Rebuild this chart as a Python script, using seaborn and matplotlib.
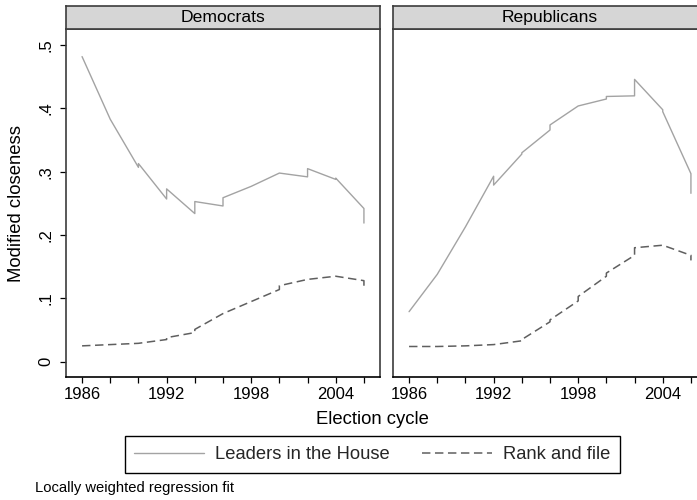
import numpy as np
import pandas as pd
import matplotlib
matplotlib.use("Agg")
import matplotlib.pyplot as plt
import seaborn as sns

sns.set_style("white")
plt.rcParams["font.family"] = ["Liberation Sans", "DejaVu Sans"]

# Lowess fits of modified closeness by election cycle (repeated years are
# where consecutive local fits meet).
dem_leader_years = [1986, 1988, 1990, 1990, 1992, 1992, 1994, 1994, 1996, 1996,
                    1998, 2000, 2002, 2002, 2004, 2004, 2006, 2006]
dem_leader_vals = [0.482, 0.383, 0.307, 0.313, 0.257, 0.273, 0.234, 0.253, 0.246, 0.259,
                   0.277, 0.298, 0.292, 0.305, 0.288, 0.290, 0.242, 0.219]

dem_rank_years = [1986, 1988, 1990, 1992, 1992, 1994, 1994, 1996, 1998, 2000, 2000,
                  2002, 2004, 2006, 2006]
dem_rank_vals = [0.025, 0.027, 0.029, 0.035, 0.038, 0.046, 0.051, 0.076, 0.095, 0.114, 0.120,
                 0.130, 0.135, 0.128, 0.120]

rep_leader_years = [1986, 1988, 1990, 1992, 1992, 1994, 1994, 1996, 1996, 1998, 2000, 2000,
                    2002, 2002, 2004, 2004, 2006, 2006]
rep_leader_vals = [0.079, 0.138, 0.213, 0.293, 0.279, 0.328, 0.330, 0.366, 0.374, 0.404,
                   0.415, 0.419, 0.420, 0.446, 0.398, 0.395, 0.297, 0.266]

rep_rank_years = [1986, 1988, 1990, 1992, 1994, 1994, 1996, 1996, 1998, 1998, 2000, 2000,
                  2002, 2002, 2004, 2006, 2006]
rep_rank_vals = [0.024, 0.024, 0.025, 0.027, 0.033, 0.035, 0.063, 0.066, 0.096, 0.103,
                 0.135, 0.140, 0.168, 0.180, 0.184, 0.168, 0.160]

panels = ["Democrats", "Republicans"]
series_names = ["Leaders in the House", "Rank and file"]
y_ticks = [0, 0.1, 0.2, 0.3, 0.4, 0.5]
y_tick_labels = ["0", ".1", ".2", ".3", ".4", ".5"]
x_ticks = list(range(1986, 2007, 2))
x_tick_labels = ["1986", "", "", "1992", "", "", "1998", "", "", "2004", ""]

data = {
    "Democrats": [(dem_leader_years, dem_leader_vals), (dem_rank_years, dem_rank_vals)],
    "Republicans": [(rep_leader_years, rep_leader_vals), (rep_rank_years, rep_rank_vals)],
}

W, H = 697, 500
fig = plt.figure(figsize=(W / 100, H / 100), dpi=100)
fig.patch.set_facecolor("white")

def px_rect(x0, y0, x1, y1):
    return [x0 / W, 1 - y1 / H, (x1 - x0) / W, (y1 - y0) / H]

frame_col = "#3c3c3c"
line_styles = [dict(color="#a3a3a3", lw=1.0, dashes=None),
               dict(color="#5f5f5f", lw=1.1, dashes=(5.5, 3.0))]

panel_x = [(66, 380), (393, 707)]
handles = []
for i, (name, (x0, x1)) in enumerate(zip(panels, panel_x)):
    ax = fig.add_axes(px_rect(x0, 29, x1, 377))
    for j, (xs, ys) in enumerate(data[name]):
        df = pd.DataFrame({"year": xs, "value": ys})
        st = line_styles[j]
        sns.lineplot(data=df, x="year", y="value", ax=ax, sort=False, estimator=None,
                     color=st["color"], lw=st["lw"], label=series_names[j], legend=False)
        ln = ax.lines[-1]
        if st["dashes"] is not None:
            ln.set_dashes(st["dashes"])
        if i == 0:
            handles.append(ln)
    ax.set_xlim(1984.86, 2007.14)
    ax.set_ylim(-0.0242, 0.5256)
    ax.set_xlabel("")
    ax.set_ylabel("")
    ax.set_xticks(x_ticks)
    ax.set_xticklabels(x_tick_labels)
    ax.tick_params(axis="x", bottom=True, length=4, width=0.9, color="black",
                   pad=3.0, labelsize=12, labelcolor="black")
    if i == 0:
        ax.set_yticks(y_ticks)
        ax.set_yticklabels(y_tick_labels, rotation=90, va="center")
        ax.tick_params(axis="y", left=True, length=4, width=0.9, color="black",
                       pad=5.2, labelsize=12, labelcolor="black")
    else:
        ax.set_yticks([])
    for side, sp in ax.spines.items():
        sp.set_visible(True)
        sp.set_color(frame_col)
        sp.set_linewidth(1.2)
    ax.spines["bottom"].set_color("black")
    ax.grid(False)

    # panel strip
    sax = fig.add_axes(px_rect(x0, 6, x1, 29))
    sax.set_facecolor("#d6d6d6")
    sax.set_xticks([])
    sax.set_yticks([])
    for sp in sax.spines.values():
        sp.set_color(frame_col)
        sp.set_linewidth(1.2)
    sax.text(0.5, 0.5, name, transform=sax.transAxes, ha="center", va="center",
             fontsize=12.6, color="black")

fig.text(17 / W, 1 - 203 / H, "Modified closeness", rotation=90, ha="center",
         va="center", fontsize=13.3, color="black")
fig.text(372 / W, 1 - 419 / H, "Election cycle", ha="center", va="center",
         fontsize=13.3, color="black")

leg = fig.legend(handles, series_names, loc="center",
                 bbox_to_anchor=(372.5 / W, 1 - 454.5 / H), ncol=2, frameon=True,
                 fancybox=False, edgecolor="black", framealpha=1, fontsize=13.2,
                 handlelength=3.8, handletextpad=0.62, columnspacing=1.75,
                 borderpad=0.52, borderaxespad=0)
leg.get_frame().set_linewidth(1.0)

fig.text(35 / W, 1 - 488 / H, "Locally weighted regression fit", ha="left",
         va="center", fontsize=10.6, color="black")

fig.savefig("out.png", dpi=100, facecolor="white")
